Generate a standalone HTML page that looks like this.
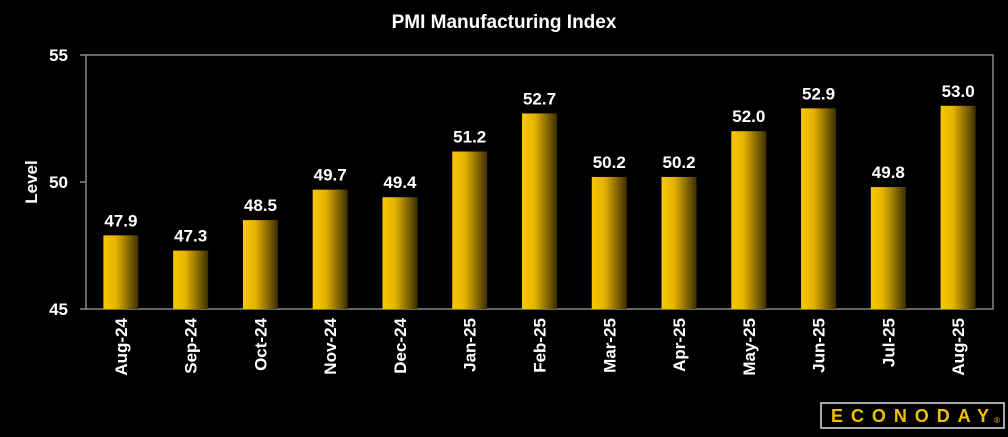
<!DOCTYPE html>
<html><head><meta charset="utf-8"><style>
html,body{margin:0;padding:0;background:#000;}
body{width:1008px;height:432px;overflow:hidden;font-family:"Liberation Sans",sans-serif;}
</style></head><body>
<svg id="c" width="1008" height="432" xmlns="http://www.w3.org/2000/svg">
<defs><linearGradient id="g" x1="0" x2="1" y1="0" y2="0">
<stop offset="0" stop-color="#f7c800"/><stop offset="0.35" stop-color="#e6b400"/><stop offset="1" stop-color="#3c2e00"/></linearGradient></defs>
<text x="504" y="28" fill="#fff" font-size="19" font-weight="bold" text-anchor="middle">PMI Manufacturing Index</text>
<text transform="translate(37,182) rotate(-90)" fill="#fff" font-size="17" font-weight="bold" text-anchor="middle">Level</text>
<rect x="86" y="55" width="907" height="254" fill="none" stroke="#888" stroke-width="1.5"/>
<g id="bars"></g>
<rect x="821" y="403" width="183" height="25" fill="none" stroke="#ddd" stroke-width="1.5"/>
<text x="831" y="422" fill="#f0c000" font-size="18" font-weight="bold" textLength="158" lengthAdjust="spacing">ECONODAY</text>
<text x="994" y="423" fill="#f0c000" font-size="8">®</text>
</svg>
<script>
const categories=["Aug-24","Sep-24","Oct-24","Nov-24","Dec-24","Jan-25","Feb-25","Mar-25","Apr-25","May-25","Jun-25","Jul-25","Aug-25"];
const values=[47.9,47.3,48.5,49.7,49.4,51.2,52.7,50.2,50.2,52.0,52.9,49.8,53.0];
const yTicks=[45,50,55];
const L=86,R=993,T=55,B=309,ymin=45,ymax=55;
const y=v=>B-(v-ymin)/(ymax-ymin)*(B-T);
const cw=(R-L)/categories.length;
const x=i=>L+cw*(i+0.5);
const svg=document.getElementById('c');
const g=document.getElementById('bars');
const NS="http://www.w3.org/2000/svg";
function mk(t,a,p){const e=document.createElementNS(NS,t);for(const k in a)e.setAttribute(k,a[k]);(p||svg).appendChild(e);return e;}
yTicks.forEach(v=>{
  const l=mk('line',{x1:L-6,x2:L,y1:y(v),y2:y(v),stroke:'#888','stroke-width':1.5});
  
  
  const t=mk('text',{x:L-18,y:y(v)+6,fill:'#fff','font-size':17,'font-weight':'bold','text-anchor':'end'});
  t.textContent=v;
  
  
});
categories.forEach((c,i)=>{
  const bw=35;
  const r=mk('rect',{x:x(i)-bw/2,y:y(values[i]),width:bw,height:B-y(values[i]),fill:'url(#g)'},g);
  
  
  const t=mk('text',{x:x(i),y:y(values[i])-9,fill:'#fff','font-size':17,'font-weight':'bold','text-anchor':'middle'});
  t.textContent=values[i].toFixed(1);
  
  
  const lb=mk('text',{transform:`translate(${x(i)+6},318) rotate(-90)`,fill:'#fff','font-size':17,'font-weight':'bold','text-anchor':'end'});
  lb.textContent=c;
  
  
});
</script>
</body></html>
